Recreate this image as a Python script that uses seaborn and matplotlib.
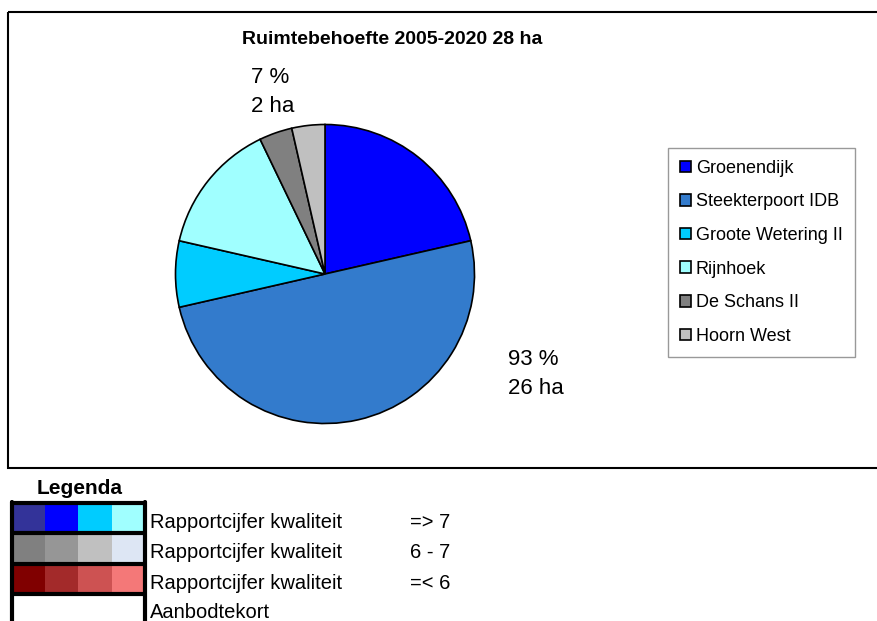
import matplotlib
matplotlib.use("Agg")
import matplotlib.pyplot as plt
from matplotlib.patches import Rectangle
import seaborn as sns

# data
locations = ['Groenendijk', 'Steekterpoort IDB', 'Groote Wetering II',
             'Rijnhoek', 'De Schans II', 'Hoorn West']
hectares = [6, 14, 2, 4, 1, 1]
slice_colors = ['#0000FF', '#337BCC', '#00CCFF', '#A0FFFF', '#808080', '#C0C0C0']
blue_group = locations[:4]
grey_group = locations[4:]

legend_rows = ['Rapportcijfer kwaliteit', 'Rapportcijfer kwaliteit',
               'Rapportcijfer kwaliteit', 'Aanbodtekort']
legend_ranges = ['=> 7', '6 - 7', '=< 6', '']
legend_colors = [
    ['#333399', '#0000FF', '#00CCFF', '#A0FFFF'],
    ['#808080', '#969696', '#C0C0C0', '#DDE6F4'],
    ['#800000', '#A32A2A', '#CD5252', '#F47878'],
    ['#FFFFFF', '#FFFFFF', '#FFFFFF', '#FFFFFF'],
]

sns.set_style('white')
plt.rcParams['font.family'] = ['Liberation Sans', 'DejaVu Sans']
plt.rcParams['text.color'] = 'black'

W, H = 877, 621
fig = plt.figure(figsize=(W / 100, H / 100), dpi=100)

# background axes in pixel coordinates
bg = fig.add_axes([0, 0, 1, 1])
bg.set_xlim(0, W)
bg.set_ylim(H, 0)
bg.axis('off')
bg.add_patch(Rectangle((8, 12), 880, 456, fill=False, edgecolor='black', lw=1.5))

# pie
cx, cy, r = 325, 274, 151
pie_ax = fig.add_axes([(cx - r) / W, (H - cy - r) / H, 2 * r / W, 2 * r / H])
wedges, _ = pie_ax.pie(hectares, colors=sns.color_palette(slice_colors), startangle=90,
                       counterclock=False,
                       wedgeprops=dict(edgecolor='black', linewidth=1.2))
pie_ax.set_xlim(-1.01, 1.01)
pie_ax.set_ylim(-1.01, 1.01)
pie_ax.set_aspect('equal')

total = sum(hectares)
blue_sum = sum(h for l, h in zip(locations, hectares) if l in blue_group)
grey_sum = sum(h for l, h in zip(locations, hectares) if l in grey_group)

fig.text(392 / W, 1 - 40 / H, f'Ruimtebehoefte 2005-2020 {total} ha',
         ha='center', va='center', fontsize=14, fontweight='bold')
fig.text(251 / W, 1 - 92 / H, f'{round(100 * grey_sum / total)} %\n{grey_sum} ha',
         ha='left', va='center', fontsize=16, linespacing=1.45)
fig.text(508 / W, 1 - 374 / H, f'{round(100 * blue_sum / total)} %\n{blue_sum} ha',
         ha='left', va='center', fontsize=16, linespacing=1.45)

leg = pie_ax.legend(wedges, locations, loc='upper left',
                    bbox_to_anchor=(668 / W, 1 - 148 / H), bbox_transform=fig.transFigure,
                    fontsize=13, frameon=True, fancybox=False, edgecolor='#808080',
                    handlelength=0.6, handleheight=0.6, handletextpad=0.3,
                    labelspacing=0.92, borderpad=0.65, borderaxespad=0)
leg.get_frame().set_linewidth(1.0)

# colour key at the bottom
fig.text(80 / W, 1 - 488 / H, 'Legenda', ha='center', va='center',
         fontsize=15, fontweight='bold')
row_tops = [505, 535, 566, 596]
row_h = [26, 28, 27, 30]
baselines = [528, 558, 589, 618]
col_x = [13, 45, 78, 112, 144]
for i, row in enumerate(legend_colors):
    for j, c in enumerate(row):
        bg.add_patch(Rectangle((col_x[j], row_tops[i]), col_x[j + 1] - col_x[j], row_h[i],
                               facecolor=c, edgecolor='none'))
    bg.text(150, baselines[i], legend_rows[i], ha='left', va='baseline', fontsize=14.5)
    bg.text(410, baselines[i], legend_ranges[i], ha='left', va='baseline', fontsize=14.5)
for y in [503, 532.5, 563.5, 594]:
    bg.plot([10, 147], [y, y], color='black', lw=3, solid_capstyle='butt')
bg.plot([11.5, 11.5], [501.5, 625], color='black', lw=3)
bg.plot([145, 145], [501.5, 625], color='black', lw=3)

fig.savefig('out.png', dpi=100)
